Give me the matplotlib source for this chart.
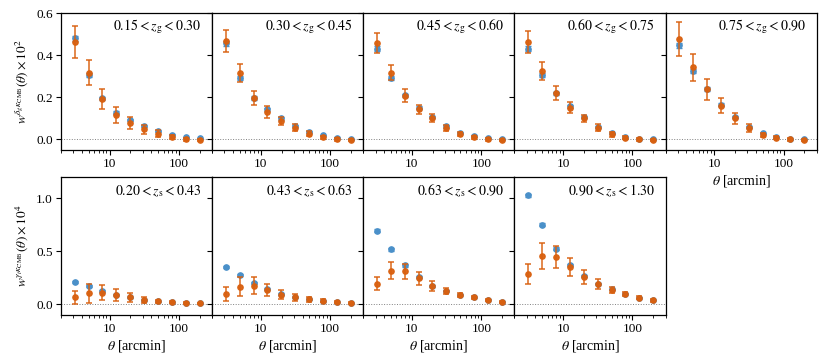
import numpy as np
import matplotlib
matplotlib.use("Agg")
import matplotlib.pyplot as plt
from matplotlib.ticker import FixedLocator, FuncFormatter, LogLocator, NullFormatter

plt.rcParams['font.family'] = ['Liberation Serif', 'DejaVu Serif']
plt.rcParams['mathtext.fontset'] = 'stix'
plt.rcParams['font.size'] = 9

theta = [3.15, 5.0, 7.9, 12.5, 19.8, 31.5, 50.0, 79.0, 125.0, 198.0]

gal_labels = [r"$0.15 < z_{\rm g} < 0.30$", r"$0.30 < z_{\rm g} < 0.45$",
              r"$0.45 < z_{\rm g} < 0.60$", r"$0.60 < z_{\rm g} < 0.75$",
              r"$0.75 < z_{\rm g} < 0.90$"]
src_labels = [r"$0.20 < z_{\rm s} < 0.43$", r"$0.43 < z_{\rm s} < 0.63$",
              r"$0.63 < z_{\rm s} < 0.90$", r"$0.90 < z_{\rm s} < 1.30$"]

# galaxy-CMB lensing (x 1e2): data (orange) and model/sim (blue)
gal_data = [
    [0.465, 0.317, 0.192, 0.116, 0.078, 0.049, 0.027, 0.011, 0.002, -0.004],
    [0.468, 0.316, 0.197, 0.130, 0.089, 0.057, 0.027, 0.010, 0.000, -0.003],
    [0.459, 0.317, 0.208, 0.143, 0.101, 0.055, 0.027, 0.010, 0.000, -0.003],
    [0.463, 0.327, 0.220, 0.152, 0.100, 0.057, 0.024, 0.008, 0.000, -0.002],
    [0.478, 0.343, 0.238, 0.160, 0.101, 0.055, 0.022, 0.008, 0.000, -0.003],
]
gal_err = [
    [0.077, 0.060, 0.047, 0.037, 0.028, 0.021, 0.016, 0.010, 0.007, 0.005],
    [0.053, 0.043, 0.035, 0.027, 0.020, 0.015, 0.012, 0.008, 0.006, 0.004],
    [0.046, 0.035, 0.030, 0.022, 0.018, 0.013, 0.010, 0.008, 0.005, 0.004],
    [0.052, 0.043, 0.034, 0.027, 0.018, 0.015, 0.011, 0.007, 0.005, 0.004],
    [0.081, 0.065, 0.049, 0.036, 0.027, 0.019, 0.011, 0.007, 0.005, 0.004],
]
gal_model = [
    [0.482, 0.308, 0.195, 0.127, 0.092, 0.063, 0.040, 0.022, 0.011, 0.005],
    [0.457, 0.293, 0.198, 0.143, 0.100, 0.065, 0.036, 0.019, 0.007, 0.001],
    [0.431, 0.293, 0.210, 0.152, 0.106, 0.062, 0.033, 0.016, 0.005, 0.001],
    [0.431, 0.306, 0.220, 0.159, 0.106, 0.060, 0.029, 0.012, 0.003, 0.000],
    [0.448, 0.327, 0.240, 0.166, 0.106, 0.058, 0.029, 0.013, 0.002, 0.000],
]
gal_model_err = [
    [0.012, 0.010, 0.008, 0.007, 0.006, 0.005, 0.004, 0.003, 0.003, 0.002],
    [0.012, 0.010, 0.008, 0.007, 0.006, 0.005, 0.004, 0.003, 0.003, 0.002],
    [0.012, 0.010, 0.008, 0.007, 0.006, 0.005, 0.004, 0.003, 0.003, 0.002],
    [0.012, 0.010, 0.008, 0.007, 0.006, 0.005, 0.004, 0.003, 0.003, 0.002],
    [0.012, 0.010, 0.008, 0.007, 0.006, 0.005, 0.004, 0.003, 0.003, 0.002],
]

# shear-CMB lensing (x 1e4)
src_data = [
    [0.063, 0.101, 0.108, 0.085, 0.063, 0.038, 0.025, 0.019, 0.013, 0.006],
    [0.095, 0.164, 0.174, 0.133, 0.089, 0.063, 0.044, 0.032, 0.019, 0.009],
    [0.193, 0.316, 0.310, 0.244, 0.171, 0.127, 0.089, 0.063, 0.041, 0.022],
    [0.285, 0.456, 0.446, 0.348, 0.256, 0.190, 0.136, 0.095, 0.060, 0.035],
]
src_err = [
    [0.060, 0.088, 0.072, 0.058, 0.043, 0.026, 0.017, 0.012, 0.010, 0.008],
    [0.068, 0.088, 0.078, 0.060, 0.045, 0.030, 0.020, 0.014, 0.011, 0.008],
    [0.063, 0.080, 0.068, 0.060, 0.044, 0.030, 0.020, 0.014, 0.011, 0.009],
    [0.093, 0.122, 0.106, 0.086, 0.065, 0.046, 0.030, 0.020, 0.014, 0.011],
]
src_model = [
    [0.209, 0.168, 0.127, 0.090, 0.065, 0.040, 0.027, 0.020, 0.014, 0.007],
    [0.351, 0.272, 0.203, 0.140, 0.095, 0.065, 0.046, 0.033, 0.020, 0.010],
    [0.696, 0.519, 0.367, 0.260, 0.172, 0.128, 0.090, 0.064, 0.042, 0.024],
    [1.028, 0.750, 0.525, 0.370, 0.265, 0.195, 0.140, 0.097, 0.062, 0.040],
]
src_model_err = [
    [0.010, 0.010, 0.010, 0.008, 0.007, 0.006, 0.005, 0.004, 0.003, 0.003],
    [0.010, 0.010, 0.010, 0.008, 0.007, 0.006, 0.005, 0.004, 0.003, 0.003],
    [0.012, 0.012, 0.012, 0.010, 0.008, 0.007, 0.006, 0.005, 0.004, 0.003],
    [0.015, 0.015, 0.015, 0.012, 0.010, 0.008, 0.007, 0.005, 0.004, 0.003],
]

BLUE = '#4a90c9'
ORANGE = '#d9600f'

fig = plt.figure(figsize=(8.30, 3.61), dpi=100)
left, right = 0.0735, 0.984
ncol = 5
w = (right - left) / ncol
top_row = (0.5845, 0.963)
bot_row = (0.1283, 0.5089)


def style_axis(ax, ylim, yticks, show_ylabels):
    ax.set_xscale('log')
    ax.set_xlim(2, 300)
    ax.set_ylim(*ylim)
    ax.xaxis.set_major_locator(FixedLocator([10, 100]))
    ax.xaxis.set_major_formatter(FuncFormatter(lambda v, p: '%d' % round(v)))
    ax.xaxis.set_minor_locator(LogLocator(base=10, subs=np.arange(2, 10)))
    ax.xaxis.set_minor_formatter(NullFormatter())
    ax.set_yticks(yticks)
    if not show_ylabels:
        ax.set_yticklabels([])
    else:
        ax.set_yticklabels(['%.1f' % t for t in yticks])
    ax.tick_params(which='major', direction='out', length=3.5, width=0.8,
                   labelsize=9.5, pad=2.5)
    ax.tick_params(which='minor', direction='out', length=2, width=0.6)
    ax.axhline(0, color='gray', ls=':', lw=0.7, zorder=0)
    for s in ax.spines.values():
        s.set_linewidth(0.9)


def draw(ax, d, e, m, me):
    ax.errorbar(theta, m, yerr=me, fmt='o', color=BLUE, ms=3.8, capsize=2.5,
                elinewidth=1.0, capthick=1.0, zorder=2)
    ax.errorbar(theta, d, yerr=e, fmt='o', color=ORANGE, ms=3.8, capsize=2.5,
                elinewidth=1.1, capthick=1.1, ecolor=ORANGE, alpha=0.95, zorder=3)


for i in range(5):
    ax = fig.add_axes([left + i * w, top_row[0], w, top_row[1] - top_row[0]])
    draw(ax, gal_data[i], gal_err[i], gal_model[i], gal_model_err[i])
    style_axis(ax, (-0.05, 0.6), [0.0, 0.2, 0.4, 0.6], i == 0)
    ax.text(0.93, 0.9, gal_labels[i], transform=ax.transAxes, ha='right',
            va='center', fontsize=10)
    if i == 0:
        ax.set_ylabel(r"$w^{\delta_{g}\kappa_{\rm CMB}}(\theta) \times 10^{2}$", fontsize=9.5)
    if i == 4:
        ax.set_xlabel(r"$\theta$ [arcmin]", fontsize=10, labelpad=2)

for i in range(4):
    ax = fig.add_axes([left + i * w, bot_row[0], w, bot_row[1] - bot_row[0]])
    draw(ax, src_data[i], src_err[i], src_model[i], src_model_err[i])
    style_axis(ax, (-0.1, 1.2), [0.0, 0.5, 1.0], i == 0)
    ax.text(0.93, 0.9, src_labels[i], transform=ax.transAxes, ha='right',
            va='center', fontsize=10)
    ax.set_xlabel(r"$\theta$ [arcmin]", fontsize=10, labelpad=2)
    if i == 0:
        ax.set_ylabel(r"$w^{\gamma_{t}\kappa_{\rm CMB}}(\theta) \times 10^{4}$", fontsize=9.5)

fig.savefig('out.png', dpi=100)
